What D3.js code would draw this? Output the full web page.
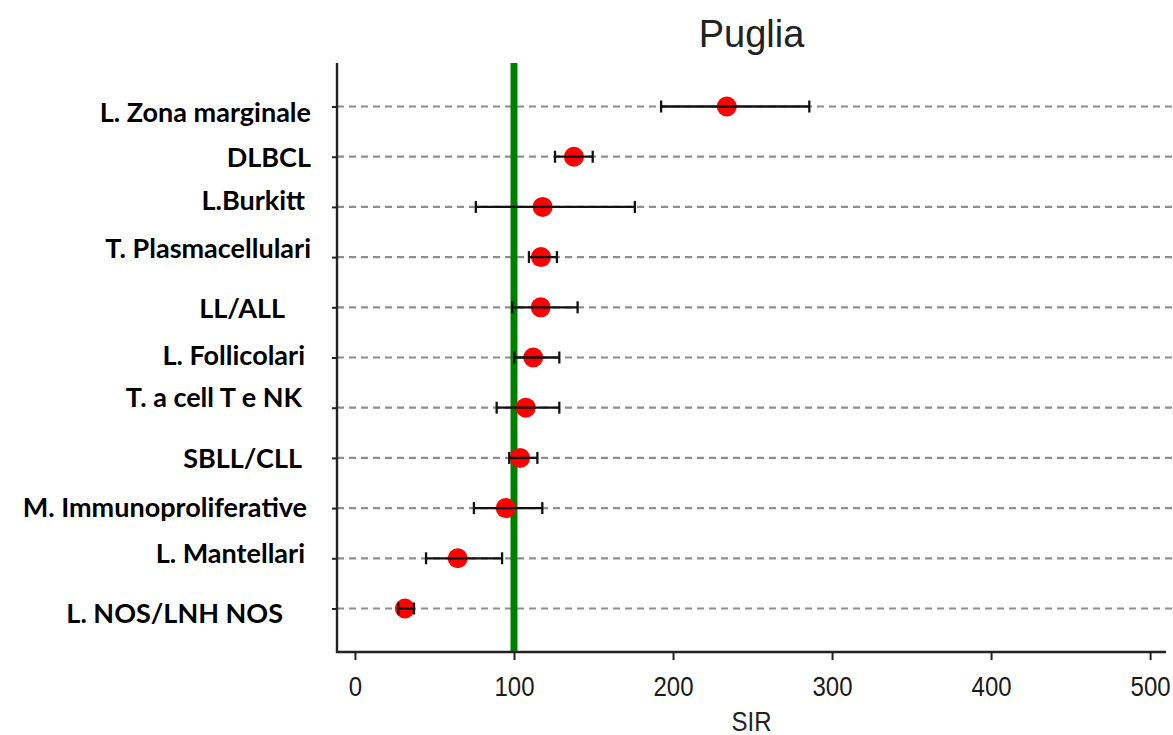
<!DOCTYPE html>
<html>
<head>
<meta charset="utf-8">
<script src="https://cdn.jsdelivr.net/npm/d3@7"></script>
<style>
  html, body { margin: 0; padding: 0; background: #fff; }
  svg { display: block; }
</style>
</head>
<body>
<svg id="chart" width="1173" height="735"></svg>
<script>
// ---- data ----
const categories = [
  "L. Zona marginale", "DLBCL", "L.Burkitt", "T. Plasmacellulari", "LL/ALL",
  "L. Follicolari", "T. a cell T e NK", "SBLL/CLL", "M. Immunoproliferative",
  "L. Mantellari", "L. NOS/LNH NOS"
];
const sir   = [233.8, 137.7, 118, 117, 116.8, 112.1, 107.4, 103.8, 94.8, 64.6, 31.4];
const lower = [192.5, 125.8, 76, 109.4, 98.9, 100.2, 89.1, 97, 74.8, 44.7, 27.2];
const upper = [285.7, 149.5, 176, 127, 140, 128.5, 128.5, 114.7, 117.8, 92.5, 37.1];
const xTicks = [0, 100, 200, 300, 400, 500];
const referenceValue = 100;
const title = "Puglia";
const xTitle = "SIR";

// ---- layout (label placement as in the original picture) ----
const labelRight = [311, 311, 305, 311, 285, 305, 302, 302, 307, 305, 283];
const labelDy    = [6, 1, -6, -9, 1, -2, -10, 1, -1, -5, 5];

(function () {
const svg = d3.select("#chart");
const pLeft = 337, pRight = 1166, pTop = 63, pBottom = 652;

const x = d3.scaleLinear().domain([-11.3, 510]).range([pLeft, pRight]);
const y = d3.scalePoint().domain(categories).range([pTop, pBottom]).padding(0.867);

// gridlines
svg.append("g").selectAll("line").data(categories).join("line")
  .attr("x1", pLeft).attr("x2", 1173)
  .attr("y1", d => y(d)).attr("y2", d => y(d))
  .attr("stroke", "#8e8e8e").attr("stroke-width", 2.2)
  .attr("stroke-dasharray", "7,5");

// reference line
svg.append("line")
  .attr("x1", x(referenceValue)).attr("x2", x(referenceValue))
  .attr("y1", pTop).attr("y2", pBottom)
  .attr("stroke", "#008000").attr("stroke-width", 7);

// axes
const yAxis = svg.append("g").attr("transform", `translate(${pLeft},0)`)
  .call(d3.axisLeft(y).tickSize(5).tickSizeOuter(0).tickFormat(""));
yAxis.select(".domain").remove();
yAxis.selectAll(".tick line").attr("stroke", "#222").attr("stroke-width", 2);
svg.append("line").attr("x1", pLeft).attr("x2", pLeft).attr("y1", pTop).attr("y2", pBottom + 1)
  .attr("stroke", "#222").attr("stroke-width", 2.4);

const xAxis = svg.append("g").attr("transform", `translate(0,${pBottom})`)
  .call(d3.axisBottom(x).tickValues(xTicks).tickSize(8).tickSizeOuter(0));
xAxis.select(".domain").remove();
xAxis.selectAll(".tick line").attr("stroke", "#222").attr("stroke-width", 2);
xAxis.selectAll(".tick text")
  .attr("y", 0).attr("dy", 0)
  .attr("transform", "translate(0,44) scale(1,1.15)")
  .attr("font-family", "'Liberation Sans', Arial, sans-serif")
  .attr("font-size", 24).attr("fill", "#1a1a1a");
svg.append("line").attr("x1", pLeft - 1).attr("x2", pRight).attr("y1", pBottom).attr("y2", pBottom)
  .attr("stroke", "#222").attr("stroke-width", 2.4);

// points
svg.append("g").selectAll("circle").data(categories).join("circle")
  .attr("cx", (d, i) => x(sir[i])).attr("cy", d => y(d)).attr("r", 10)
  .attr("fill", "#ff0000");

// error bars
const eb = svg.append("g").attr("stroke", "#111").attr("stroke-width", 2.3);
categories.forEach((c, i) => {
  const yy = y(c);
  eb.append("line").attr("x1", x(lower[i])).attr("x2", x(upper[i])).attr("y1", yy).attr("y2", yy);
  eb.append("line").attr("x1", x(lower[i])).attr("x2", x(lower[i])).attr("y1", yy - 6).attr("y2", yy + 6);
  eb.append("line").attr("x1", x(upper[i])).attr("x2", x(upper[i])).attr("y1", yy - 6).attr("y2", yy + 6);
});

// category labels
svg.append("g").selectAll("text").data(categories).join("text")
  .attr("x", (d, i) => labelRight[i])
  .attr("y", (d, i) => y(d) + labelDy[i])
  .attr("dy", "0.35em")
  .attr("text-anchor", "end")
  .attr("font-family", "Lato, 'Open Sans', sans-serif")
  .attr("font-weight", "bold")
  .attr("font-size", 27)
  .attr("fill", "#000")
  .text(d => d);

// title
svg.append("text").attr("x", (pLeft + pRight) / 2).attr("y", 47)
  .attr("text-anchor", "middle")
  .attr("font-family", "'Liberation Sans', Arial, sans-serif")
  .attr("font-size", 38).attr("fill", "#222").text(title);

// x title
svg.append("text").attr("transform", `translate(${(pLeft + pRight) / 2},731) scale(1,1.15)`)
  .attr("text-anchor", "middle")
  .attr("font-family", "'Liberation Sans', Arial, sans-serif")
  .attr("font-size", 24).attr("fill", "#222").text(xTitle);
})();
</script>
</body>
</html>
